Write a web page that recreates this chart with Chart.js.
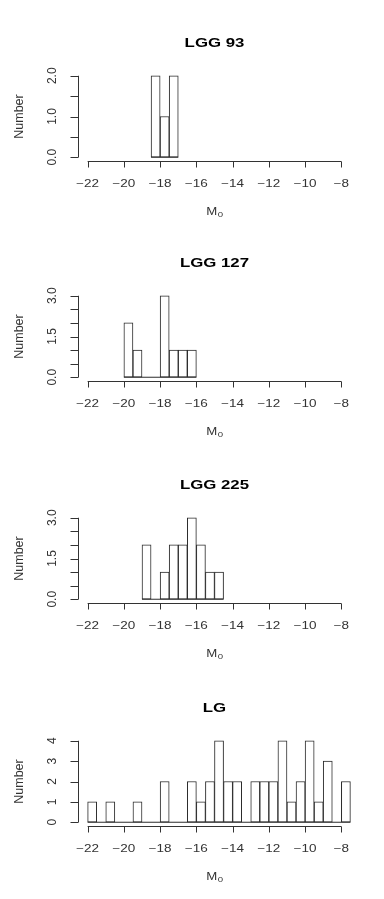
<!DOCTYPE html>
<html><head><meta charset="utf-8">
<script src="https://cdn.jsdelivr.net/npm/chart.js@4.4.0/dist/chart.umd.min.js"></script>
<style>
html,body{margin:0;padding:0;background:#fff;}
body{width:384px;height:899px;position:relative;overflow:hidden;}
.panel{position:absolute;left:0;width:384px;}
canvas{display:block;}
</style></head><body>
<div class="panel" style="top:0px;height:220px"><canvas id="c0"></canvas></div>
<div class="panel" style="top:220px;height:222px"><canvas id="c1"></canvas></div>
<div class="panel" style="top:442px;height:223px"><canvas id="c2"></canvas></div>
<div class="panel" style="top:665px;height:234px"><canvas id="c3"></canvas></div>
<script>
// ---- data ----
const xTickValues = [-22, -20, -18, -16, -14, -12, -10, -8];
const xTickLabels = ['\u221222', '\u221220', '\u221218', '\u221216', '\u221214', '\u221212', '\u221210', '\u22128'];
const binWidth = 0.5;
const titles = ['LGG 93', 'LGG 127', 'LGG 225', 'LG'];

const lgg93Start = -18.5;
const lgg93Counts = [2, 1, 2];
const lgg93YTicks = [0, 0.5, 1, 1.5, 2];
const lgg93YLabels = ['0.0', '', '1.0', '', '2.0'];

const lgg127Start = -20;
const lgg127Counts = [2, 1, 0, 0, 3, 1, 1, 1];
const lgg127YTicks = [0, 0.5, 1, 1.5, 2, 2.5, 3];
const lgg127YLabels = ['0.0', '', '', '1.5', '', '', '3.0'];

const lgg225Start = -19;
const lgg225Counts = [2, 0, 1, 2, 2, 3, 2, 1, 1];
const lgg225YTicks = [0, 0.5, 1, 1.5, 2, 2.5, 3];
const lgg225YLabels = ['0.0', '', '', '1.5', '', '', '3.0'];

const lgStart = -22;
const lgCounts = [1, 0, 1, 0, 0, 1, 0, 0, 2, 0, 0, 2, 1, 2, 4, 2, 2, 0, 2, 2, 2, 4, 1, 2, 4, 1, 3, 0, 2];
const lgYTicks = [0, 1, 2, 3, 4];
const lgYLabels = ['0', '1', '2', '3', '4'];

const xLabelMain = 'M';
const xLabelSub = '0';
const yLabel = 'Number';

const panels = [
  {start: lgg93Start, counts: lgg93Counts, yTicks: lgg93YTicks, yLabels: lgg93YLabels},
  {start: lgg127Start, counts: lgg127Counts, yTicks: lgg127YTicks, yLabels: lgg127YLabels},
  {start: lgg225Start, counts: lgg225Counts, yTicks: lgg225YTicks, yLabels: lgg225YLabels},
  {start: lgStart, counts: lgCounts, yTicks: lgYTicks, yLabels: lgYLabels}
];

// ---- drawing ----
const FONT = '"Liberation Sans", Arial, Helvetica, sans-serif';
const INK = '#2a2a2a';

function hText(ctx, text, x, y, sx, font, color) {
  ctx.save();
  ctx.translate(x, y);
  ctx.scale(sx, 1);
  ctx.font = font;
  ctx.fillStyle = color;
  ctx.textAlign = 'center';
  ctx.textBaseline = 'middle';
  ctx.fillText(text, 0, 0);
  ctx.restore();
}
function vText(ctx, text, x, y, font, color) {
  ctx.save();
  ctx.translate(x, y);
  ctx.rotate(-Math.PI / 2);
  ctx.font = font;
  ctx.fillStyle = color;
  ctx.textAlign = 'center';
  ctx.textBaseline = 'middle';
  ctx.fillText(text, 0, 0);
  ctx.restore();
}

const rAxesPlugin = {
  id: 'rAxes',
  afterDraw(chart, args, opts) {
    const ctx = chart.ctx;
    const xs = chart.scales.x, ys = chart.scales.y;
    const area = chart.chartArea;
    const yT = opts.yTicks, yL = opts.yLabels;
    ctx.save();
    ctx.strokeStyle = '#333';
    ctx.lineWidth = 1;
    // x axis
    const xb = Math.round(area.bottom) + 0.5;
    const x0 = xs.getPixelForValue(xTickValues[0]);
    const x1 = xs.getPixelForValue(xTickValues[xTickValues.length - 1]);
    ctx.beginPath();
    ctx.moveTo(x0, xb); ctx.lineTo(x1, xb);
    xTickValues.forEach(v => {
      const px = Math.round(xs.getPixelForValue(v)) + 0.5;
      ctx.moveTo(px, xb); ctx.lineTo(px, xb + 6);
    });
    ctx.stroke();
    xTickValues.forEach((v, i) => {
      hText(ctx, xTickLabels[i], xs.getPixelForValue(v), xb + 22.5, 1.35, '10px ' + FONT, '#333');
    });
    // y axis
    const yl = Math.round(area.left) + 0.5;
    const yb = ys.getPixelForValue(yT[0]);
    const ytop = ys.getPixelForValue(yT[yT.length - 1]);
    ctx.beginPath();
    ctx.moveTo(yl, yb); ctx.lineTo(yl, ytop);
    yT.forEach(v => {
      const py = Math.round(ys.getPixelForValue(v)) + 0.5;
      ctx.moveTo(yl, py); ctx.lineTo(yl - 8, py);
    });
    ctx.stroke();
    yT.forEach((v, i) => {
      if (yL[i]) vText(ctx, yL[i], yl - 26, ys.getPixelForValue(v), '12px ' + FONT, '#333');
    });
    // titles
    const cx = (area.left + area.right) / 2;
    hText(ctx, opts.title, cx, 44, 1.4, 'bold 12px ' + FONT, '#000');
    vText(ctx, yLabel, 20, (area.top + area.bottom) / 2, '12.5px ' + FONT, '#333');
    // M_0
    ctx.font = '11px ' + FONT;
    const wM = ctx.measureText(xLabelMain).width * 1.2;
    ctx.font = '8px ' + FONT;
    const wS = ctx.measureText(xLabelSub).width * 1.2;
    const startX = cx - (wM + wS) / 2;
    hText(ctx, xLabelMain, startX + wM / 2, 212, 1.2, '11px ' + FONT, '#333');
    hText(ctx, xLabelSub, startX + wM + wS / 2 + 0.5, 215, 1.2, '8px ' + FONT, '#333');
    ctx.restore();
  }
};

panels.forEach((p, k) => {
  const canvas = document.getElementById('c' + k);
  const H = canvas.parentElement.clientHeight;
  const bars = p.counts.map((c, i) => ({x: p.start + binWidth * (i + 0.5), y: c}));
  const end = p.start + binWidth * p.counts.length;
  const base = [{x: p.start, y: 0}, {x: end, y: 0}];
  const yMax = p.yTicks[p.yTicks.length - 1];
  const xMin = xTickValues[0], xMax = xTickValues[xTickValues.length - 1];
  const xPad = (xMax - xMin) * 0.04;
  new Chart(canvas, {
    type: 'bar',
    data: {
      datasets: [
        {type: 'line', data: base, borderColor: INK, borderWidth: 1, pointRadius: 0, fill: false, order: 0},
        {type: 'bar', data: bars, backgroundColor: '#ffffff', borderColor: INK, borderWidth: 1,
         borderSkipped: false, barPercentage: 1, categoryPercentage: 1, order: 1}
      ]
    },
    options: {
      responsive: true,
      maintainAspectRatio: false,
      animation: false,
      devicePixelRatio: 1,
      layout: {padding: {left: 77.5, right: 32.5, top: 72.5, bottom: H - 160.5}},
      plugins: {
        legend: {display: false},
        title: {display: false},
        tooltip: {enabled: false},
        rAxes: {title: titles[k], yTicks: p.yTicks, yLabels: p.yLabels}
      },
      scales: {
        x: {type: 'linear', display: false, offset: false, min: xMin - xPad, max: xMax + xPad},
        y: {type: 'linear', display: false, min: -0.04 * yMax, max: 1.04 * yMax}
      }
    },
    plugins: [rAxesPlugin]
  });
});
</script>
</body></html>
